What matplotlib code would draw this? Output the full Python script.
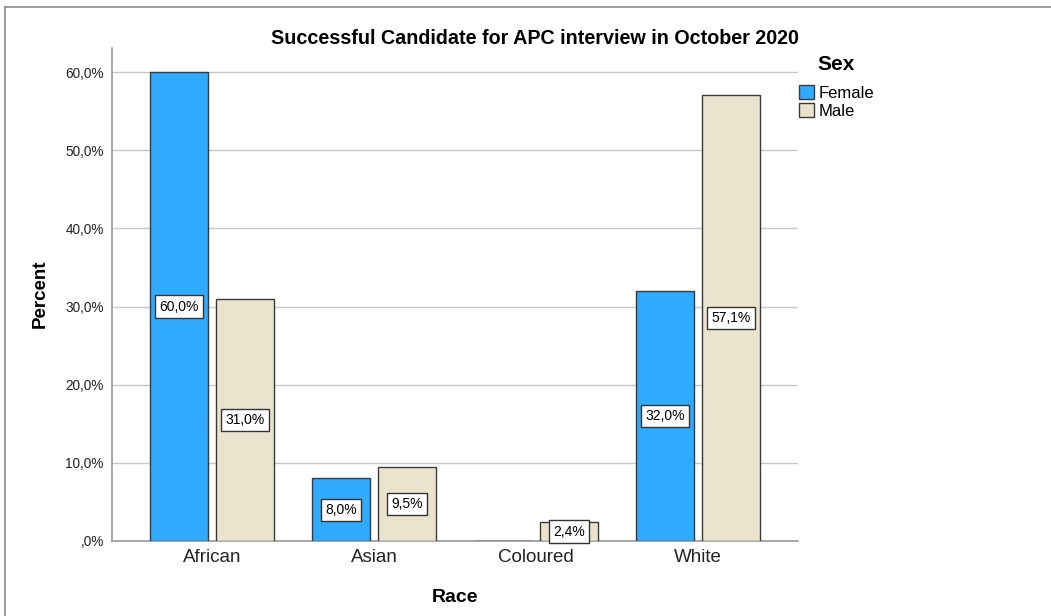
import matplotlib
matplotlib.use("Agg")
import matplotlib.pyplot as plt
from matplotlib.lines import Line2D
from matplotlib.patches import Patch

plt.rcParams['font.family'] = ['Liberation Sans', 'DejaVu Sans']

races = ["African", "Asian", "Coloured", "White"]
female = [60.0, 8.0, 0.0, 32.0]
male = [31.0, 9.5, 2.4, 57.1]
yticks = [0, 10, 20, 30, 40, 50, 60]
ytick_labels = [",0%", "10,0%", "20,0%", "30,0%", "40,0%", "50,0%", "60,0%"]

female_color = "#30AAFF"
male_color = "#EAE4CF"
edge_color = "#3A3A3A"

W, H = 1051, 616
fig = plt.figure(figsize=(W / 100, H / 100), dpi=100)

# outer frame: top and left edges only
frame_kw = dict(transform=fig.transFigure, color="#8C8C8C", linewidth=1.2)
fig.add_artist(Line2D([5 / W, 1.0], [1 - 6.5 / H, 1 - 6.5 / H], **frame_kw))
fig.add_artist(Line2D([5 / W, 5 / W], [0.0, 1 - 6.5 / H], **frame_kw))

ax = fig.add_axes([112 / W, 1 - 541 / H, (798 - 112) / W, (541 - 48) / H])

x = list(range(len(races)))
width = 0.358
offset = 0.204

def fmt(v):
    return f"{v:.1f}".replace(".", ",") + "%"

for series, sign, color in [(female, -1, female_color), (male, 1, male_color)]:
    pos = [xi + sign * offset for xi in x]
    bars = ax.bar(pos, series, width=width, color=color, edgecolor=edge_color,
                  linewidth=1.0, zorder=3)
    for b, v in zip(bars, series):
        if v > 0:
            ax.text(b.get_x() + b.get_width() / 2, v / 2, fmt(v), ha="center", va="center",
                    fontsize=10, zorder=5,
                    bbox=dict(boxstyle="square,pad=0.3", facecolor="white",
                              edgecolor="#333333", linewidth=1.0))

ax.set_xlim(-0.617, 3.617)
ax.set_ylim(0, 63.1)
ax.set_yticks(yticks)
ax.set_yticklabels(ytick_labels, fontsize=9.8)
ax.set_xticks(x)
ax.set_xticklabels(races, fontsize=13.5)
ax.tick_params(axis="both", length=0, colors="#222222")
ax.tick_params(axis="y", pad=6)
ax.tick_params(axis="x", pad=6)
ax.grid(axis="y", color="#C8C8C8", linewidth=1.0, zorder=0)
for s in ["top", "right"]:
    ax.spines[s].set_visible(False)
for s in ["left", "bottom"]:
    ax.spines[s].set_color("#9A9A9A")
    ax.spines[s].set_linewidth(1.2)

fig.text(535 / W, 1 - 38 / H, "Successful Candidate for APC interview in October 2020",
         ha="center", va="center", fontsize=14.2, fontweight="bold")
fig.text(40 / W, 1 - 294 / H, "Percent", ha="center", va="center", rotation=90,
         fontsize=13.5, fontweight="bold")
fig.text(455 / W, 1 - 597 / H, "Race", ha="center", va="center",
         fontsize=14, fontweight="bold")

handles = [Patch(facecolor=female_color, edgecolor=edge_color, label="Female"),
           Patch(facecolor=male_color, edgecolor=edge_color, label="Male")]
leg = fig.legend(handles=handles, title="Sex", loc="upper left",
                 bbox_to_anchor=(799 / W, 1 - 55 / H), frameon=False,
                 fontsize=12, handlelength=0.9, handleheight=0.9, handletextpad=0.25,
                 labelspacing=0.15, borderpad=0.0, borderaxespad=0.0)
leg.get_title().set_fontweight("bold")
leg.get_title().set_fontsize(15)
leg._legend_box.sep = 8

fig.savefig("out.png", dpi=100)
